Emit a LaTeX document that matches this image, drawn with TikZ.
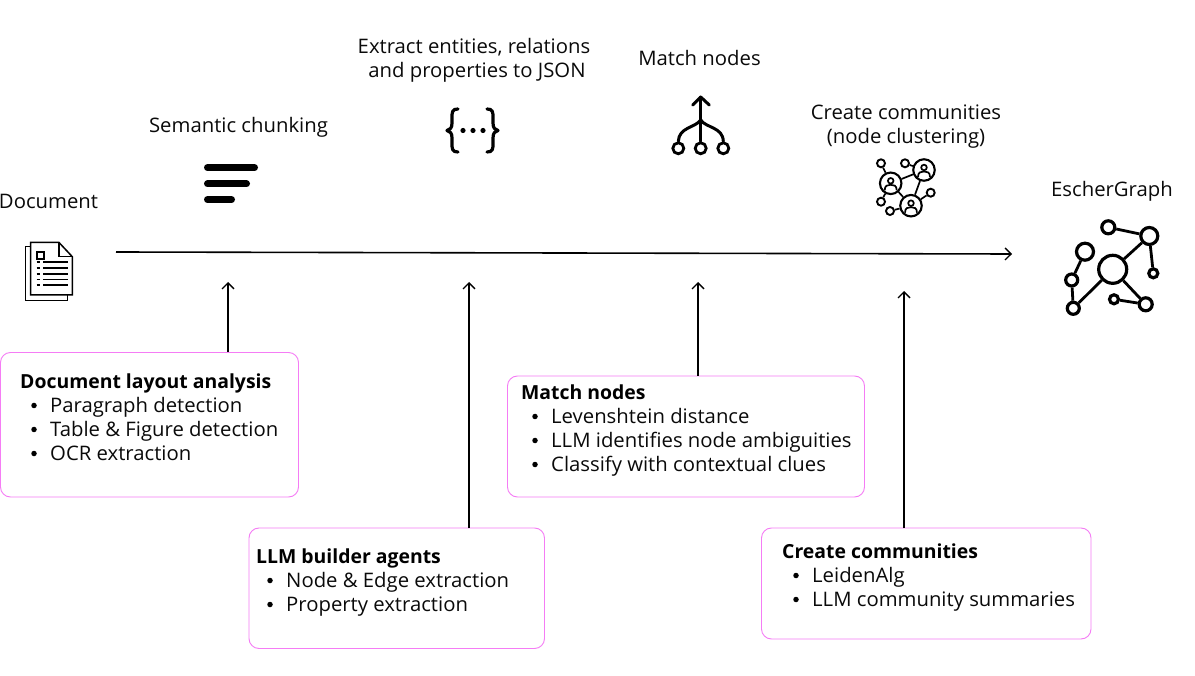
\documentclass[tikz,border=0pt]{standalone}
\usepackage{fontspec}
\setmainfont[FakeStretch=1.015]{Open Sans}
\newfontface\headface[FakeStretch=1.0]{Open Sans Bold}
\usetikzlibrary{arrows.meta}
\definecolor{pinkline}{HTML}{F57CF5}
\definecolor{ink}{HTML}{0A0A0A}
\newcommand\itm[3]{%
  \node[bul] at (#1-16,#2-6.5) {};
  \node[txt] at (#1,#2+0.6) {#3};}
\tikzset{
  txt/.style={anchor=base west,inner sep=0pt,font=\fontsize{20}{24}\selectfont,text=ink},
  head/.style={anchor=base west,inner sep=0pt,font=\headface\fontsize{19.4}{24}\selectfont,text=black},
  ttl/.style={anchor=base,inner sep=0pt,font=\fontsize{20}{24}\selectfont,text=ink},
  card/.style={draw=pinkline,line width=0.9pt,rounded corners=10pt,fill=white},
  arr/.style={draw=black,line width=1.6pt,-{Straight Barb[length=6pt,width=12pt,line width=1.4pt]}},
  bul/.style={circle,fill=black,inner sep=0pt,minimum size=5.5pt},
  ico/.style={draw=black,line width=2.2pt,line cap=round,line join=round},
  dot/.style={circle,draw=black,inner sep=0pt,fill=white},
}
\begin{document}
\begin{tikzpicture}[x=1pt,y=-1pt]
\useasboundingbox (0,0) rectangle (1195,676);
\fill[white] (0,0) rectangle (1195,676);
% titles
\node[ttl] (t1) at (48.5,208.7) {Document};
\node[ttl] (t2) at (238.5,132.7) {Semantic chunking};
\node[ttl] (t3) at (474,53.7) {Extract entities, relations};
\node[ttl] (t3b) at (477,77.7) {and properties to JSON};
\node[ttl] (t4) at (699.5,65.7) {Match nodes};
\node[ttl] (t5) at (906,119.7) {Create communities};
\node[ttl] (t5b) at (906,143.7) {(node clustering)};
\node[ttl] (t6) at (1112,196.7) {EscherGraph};
% main line
\coordinate (ms) at (116,252);
\coordinate (me) at (1012,254);
\draw[arr] (ms) -- (me);
% cards
\draw[card] (0.5,352.5) rectangle (298.5,497);
\draw[card] (249,528) rectangle (544.5,648.5);
\draw[card] (507.5,376) rectangle (864.5,497);
\draw[card] (761.5,528) rectangle (1091,639);
\coordinate (b1) at (228,352);
\coordinate (b2) at (469,528);
\coordinate (b3) at (698,376);
\coordinate (b4) at (904,528);
\coordinate (a1) at (228,282);
\coordinate (a2) at (469,282);
\coordinate (a3) at (698,282);
\coordinate (a4) at (904,291);
\draw[arr] (b1) -- (a1);
\draw[arr] (b2) -- (a2);
\draw[arr] (b3) -- (a3);
\draw[arr] (b4) -- (a4);
% card text
\node[head] at (20,388.7) {Document layout analysis};
\itm{50}{412}{Paragraph detection}
\itm{50}{436}{Table \& Figure detection}
\itm{50}{460}{OCR extraction}
\node[head] at (256,563.7) {LLM builder agents};
\itm{286}{587}{Node \& Edge extraction}
\itm{286}{611}{Property extraction}
\node[head] at (521,399.7) {Match nodes};
\itm{551}{423}{Levenshtein distance}
\itm{551}{447}{LLM identifies node ambiguities}
\itm{551}{471}{Classify with contextual clues}
\node[head] at (782,558.7) {Create communities};
\itm{812}{582}{LeidenAlg}
\itm{812}{606}{LLM community summaries}
% document icon
\draw[black,line width=1.5pt,line join=miter] (30.7,246.7) -- (25.3,246.7) -- (25.3,300.7) -- (67.7,300.7) -- (67.7,295);
\draw[black,line width=1.5pt,fill=white,line join=miter] (30.7,242.5) -- (59,242.5) -- (72.3,256.7) -- (72.3,295) -- (30.7,295) -- cycle;
\draw[black,line width=1.3pt] (59,242.5) -- (59,256.7) -- (72.3,256.7);
\draw[black,line width=1.3pt] (37,252) rectangle (44,259);
\foreach \yy in {262,268,274,279.5,285} \draw[black,line width=1.2pt] (36.7,\yy) -- (40,\yy);
\foreach \yy in {262,268,274,279.5,285} \draw[black,line width=1.2pt] (43,\yy) -- (67.7,\yy);
% chunk icon
\draw[black,line width=7pt,line cap=round] (207.5,167.7) -- (254.5,167.7);
\draw[black,line width=7pt,line cap=round] (207.5,184) -- (246.5,184);
\draw[black,line width=7pt,line cap=round] (207.5,199.7) -- (231.5,199.7);
% brace icon
\draw[ico,line width=3.2pt] (458,109) .. controls (452,109) and (452,112) .. (452,118) -- (452,123) .. controls (452,128) and (450,130) .. (447,130.5) .. controls (450,131) and (452,133) .. (452,138) -- (452,143) .. controls (452,149) and (452,152) .. (458,152);
\draw[ico,line width=3.2pt] (487,109) .. controls (493,109) and (493,112) .. (493,118) -- (493,123) .. controls (493,128) and (495,130) .. (498,130.5) .. controls (495,131) and (493,133) .. (493,138) -- (493,143) .. controls (493,149) and (493,152) .. (487,152);
\foreach \xx in {463,473,483} \fill[black] (\xx,130.5) circle (2.6);
% match icon
\node[dot,line width=2.8pt,minimum size=11pt] (m1) at (678.3,148.3) {};
\node[dot,line width=2.8pt,minimum size=11pt] (m2) at (700.7,148.3) {};
\node[dot,line width=2.8pt,minimum size=11pt] (m3) at (723.3,148.3) {};
\coordinate (mt) at (700.7,97);
\coordinate (mj) at (700.7,120);
\draw[ico,line width=3pt] (m2) -- (mt);
\draw[ico,line width=3pt] (692.7,105) -- (mt) -- (709.3,105);
\draw[ico,line width=3pt] (mj) .. controls (695,128) and (679,127) .. (m1.north);
\draw[ico,line width=3pt] (mj) .. controls (706,128) and (723,127) .. (m3.north);
% community icon
\tikzset{bigc/.style={dot,line width=2.1pt,minimum size=21.5pt},smc/.style={dot,line width=1.9pt,minimum size=8pt}}
\node[bigc] (ca) at (890.7,183.3) {};
\node[bigc] (cb) at (924,170) {};
\node[bigc] (cc) at (911,205.7) {};
\node[smc] (s1) at (881,163.3) {};
\node[smc] (s2) at (905,163.3) {};
\node[smc] (s3) at (930.7,192.7) {};
\node[smc] (s4) at (881,201.7) {};
\node[smc] (s5) at (890,211) {};
\begin{scope}[black,line width=1.7pt]
\draw (ca) -- (cb); \draw (cb) -- (cc); \draw (ca) -- (cc);
\draw (s1) -- (ca); \draw (s2) -- (cb); \draw (s3) -- (cc); \draw (s4) -- (ca); \draw (s5) -- (cc);
\foreach \cx/\cy in {890.7/183.3,924/170,911/205.7}{
  \draw (\cx,\cy-2.5) circle (2.8);
  \draw (\cx-6,\cy+7) .. controls (\cx-6,\cy+2) and (\cx-3,\cy+1.5) .. (\cx,\cy+1.5) .. controls (\cx+3,\cy+1.5) and (\cx+6,\cy+2) .. (\cx+6,\cy+7);
}
\end{scope}
% escher graph icon
\tikzset{eg/.style={dot,line width=3.2pt}}
\node[eg,minimum size=28pt] (e0) at (1112.7,269.3) {};
\node[eg,minimum size=17pt] (e1) at (1149.3,236) {};
\node[eg,minimum size=13pt] (e2) at (1108.3,227.3) {};
\node[eg,minimum size=9pt] (e3) at (1153.3,273.3) {};
\node[eg,minimum size=17pt] (e4) at (1085,251.7) {};
\node[eg,minimum size=12pt] (e5) at (1071.7,280) {};
\node[eg,minimum size=12pt] (e6) at (1073.3,308.3) {};
\node[eg,minimum size=13pt] (e7) at (1145.7,304.3) {};
\node[eg,minimum size=9pt] (e8) at (1114,299.3) {};
\begin{scope}[black,line width=2.8pt]
\draw (e0) -- (e1); \draw (e1) -- (e2); \draw (e1) -- (e3);
\draw (e4) -- (e5); \draw (e5) -- (e6); \draw (e6) -- (e0);
\draw (e0) -- (e7); \draw (e7) -- (e8);
\end{scope}
\end{tikzpicture}
\end{document}
